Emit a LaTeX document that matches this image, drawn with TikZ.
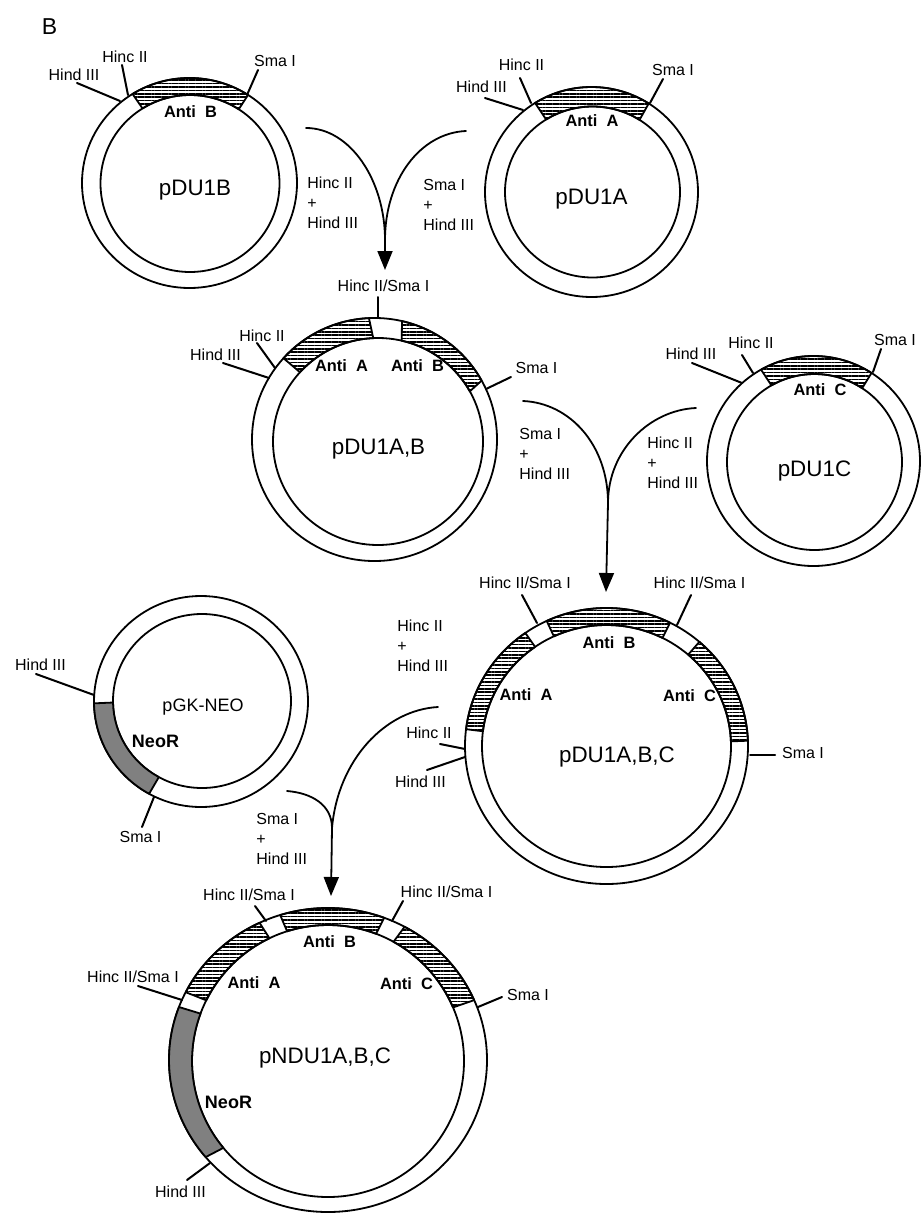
\documentclass[tikz,border=0pt]{standalone}
\usepackage{fontspec}
\setmainfont{Liberation Sans}
\usetikzlibrary{arrows.meta,calc,patterns.meta}

\tikzset{
  lab/.style={anchor=base,inner sep=0pt,font=\fontsize{8}{10}\selectfont},
  anti/.style={anchor=base,inner sep=0pt,font=\fontsize{8.2}{10}\selectfont\bfseries},
  neolab/.style={anchor=base,inner sep=0pt,font=\fontsize{9}{11}\selectfont\bfseries},
  ptitle/.style={anchor=base,inner sep=0pt,font=\fontsize{11.2}{13}\selectfont},
  enzyme/.style={anchor=west,inner sep=0pt,align=left,font=\fontsize{8}{10}\selectfont},
  dna/.style={line width=0.9pt},
  lead/.style={line width=1pt},
  cut/.style={line width=0.9pt},
  hatch/.style={draw=black,line width=0.9pt,pattern={Lines[angle=0,distance=1.7pt,line width=0.75pt]}},
  neo/.style={draw=black,line width=0.9pt,fill=black!50},
}

% outer centre, outer radii, inner centre, inner radii
\newcommand{\plasmidring}[6]{
  \coordinate (oc) at (#1);
  \coordinate (ic) at (#4);
  \def\orx{#2}\def\ory{#3}\def\irx{#5}\def\iry{#6}
  \draw[dna] (oc) ellipse [x radius=#2,y radius=#3];
  \draw[dna] (ic) ellipse [x radius=#5,y radius=#6];
}
% y axis runs down, so the angles change sign
\newcommand{\plasmidband}[3]{
  \draw[#1] ($(ic)+(-#2:\irx\space and \iry)$) arc [start angle=-#2,end angle=-#3,x radius=\irx,y radius=\iry]
    -- ($(oc)+(-#3:\orx\space and \ory)$) arc [start angle=-#3,end angle=-#2,x radius=\orx,y radius=\ory] -- cycle;
}

\begin{document}
\begin{tikzpicture}[line cap=round,line join=round,>={Triangle[length=9.5pt,width=7.5pt]},x=0.5pt,y=-0.5pt]
\useasboundingbox (0,0) rectangle (924,1226);

\node[anchor=base,inner sep=0pt,font=\fontsize{11.5}{13}\selectfont] (panel) at (49.5,34) {B};

% pDU1B
\plasmidring{189.5,183}{107.5}{105}{190,183.5}{89.5}{88.5}
\plasmidband{hatch}{57}{122}
\node[anti] (antib) at (190.5,117) {Anti\ \ B};
\node[ptitle] (pb) at (195,195) {pDU1B};
\node[lab] (hdb) at (74,80) {Hind III};   \coordinate (hdb1) at (77,83);   \coordinate (hdb2) at (120,101);
\node[lab] (hcb) at (125,62.5) {Hinc II}; \coordinate (hcb1) at (122,65);  \coordinate (hcb2) at (128,95);
\node[lab] (smb) at (275,66.5) {Sma I};   \coordinate (smb1) at (258,70);  \coordinate (smb2) at (247,95);

% pDU1A
\plasmidring{591.5,192}{106.5}{105}{592.5,192}{87.5}{85.5}
\plasmidband{hatch}{57.5}{122}
\node[anti] (antia) at (592,126) {Anti\ \ A};
\node[ptitle] (pa) at (591.5,204) {pDU1A};
\node[lab] (hda) at (481.5,92) {Hind III}; \coordinate (hda1) at (485,98);  \coordinate (hda2) at (523,110);
\node[lab] (hca) at (521.5,70) {Hinc II};  \coordinate (hca1) at (520,78);  \coordinate (hca2) at (531,103);
\node[lab] (sma) at (673,75) {Sma I};      \coordinate (sma1) at (663,79);  \coordinate (sma2) at (650,103);

% first joining
\node[enzyme] (eb) at (307,203) {Hinc II\\+\\Hind III};
\node[enzyme] (ea) at (423,205) {Sma I\\+\\Hind III};
\coordinate (sb) at (306,128);
\coordinate (sa) at (466,131);
\coordinate (jab) at (385,240);
\coordinate (tab) at (385,270);
\draw[cut] (sb) .. controls (350,128) and (385,180) .. (jab);
\draw[cut] (sa) .. controls (420,133) and (385,180) .. (jab);
\draw[cut,->] (jab) -- (tab);

% pDU1A,B
\plasmidring{374.5,439.5}{122.5}{121.5}{378,441.5}{105}{103.5}
\plasmidband{hatch}{92.6}{138}
\plasmidband{hatch}{29}{77}
\node[anti] (antiaa) at (341.5,371) {Anti\ \ A};
\node[anti] (antibb) at (417.5,371) {Anti\ \ B};
\node[ptitle] (pab) at (378.5,454) {pDU1A,B};
\node[lab] (hsab) at (383.5,291) {Hinc II/Sma I}; \coordinate (hsab1) at (378,297); \coordinate (hsab2) at (378,318);
\node[lab] (hcab) at (262,341) {Hinc II};  \coordinate (hcab1) at (257,343); \coordinate (hcab2) at (275,368);
\node[lab] (hdab) at (215.5,360) {Hind III}; \coordinate (hdab1) at (223,363); \coordinate (hdab2) at (269,378);
\node[lab] (smab) at (536.5,373) {Sma I};  \coordinate (smab1) at (511,377); \coordinate (smab2) at (486,389);

% pDU1C
\plasmidring{813.5,461}{106.5}{105}{814.5,462}{87.5}{88}
\plasmidband{hatch}{57}{119.5}
\node[anti] (antic) at (820,395) {Anti\ \ C};
\node[ptitle] (pc) at (814.5,476) {pDU1C};
\node[lab] (hdc) at (691,359) {Hind III}; \coordinate (hdc1) at (692,363); \coordinate (hdc2) at (742,383);
\node[lab] (hcc) at (751,348) {Hinc II};  \coordinate (hcc1) at (742,355); \coordinate (hcc2) at (753,373);
\node[lab] (smc) at (895,345) {Sma I};    \coordinate (smc1) at (881,349); \coordinate (smc2) at (873,372);

% second joining
\node[enzyme] (eab) at (519,454) {Sma I\\+\\Hind III};
\node[enzyme] (ec) at (647,463) {Hinc II\\+\\Hind III};
\coordinate (sab) at (523,401);
\coordinate (sc) at (696,408);
\coordinate (jabc) at (608,503);
\coordinate (tabc) at (606,592);
\draw[cut] (sab) .. controls (570,403) and (608,445) .. (jabc);
\draw[cut] (sc) .. controls (650,410) and (608,450) .. (jabc);
\draw[cut,->] (jabc) -- (tabc);

% pDU1A,B,C
\plasmidring{606.5,746}{141.5}{138}{606.5,746}{124.5}{121}
\plasmidband{hatch}{125}{173}
\plasmidband{hatch}{63.3}{115}
\plasmidband{hatch}{2.2}{49}
\node[anti] (antiaaa) at (526,700) {Anti\ \ A};
\node[anti] (antibbb) at (609,648) {Anti\ \ B};
\node[anti] (anticc) at (689.5,701) {Anti\ \ C};
\node[ptitle] (pabc) at (617,762) {pDU1A,B,C};
\node[lab] (hsl) at (525,588) {Hinc II/Sma I}; \coordinate (hsl1) at (522,595); \coordinate (hsl2) at (537,623);
\node[lab] (hsr) at (699.5,588) {Hinc II/Sma I}; \coordinate (hsr1) at (691,595); \coordinate (hsr2) at (677,625);
\node[lab] (smabc) at (803,758) {Sma I};   \coordinate (smabc1) at (750,755); \coordinate (smabc2) at (775,755);
\node[lab] (hcabc) at (429,738) {Hinc II}; \coordinate (hcabc1) at (440,744); \coordinate (hcabc2) at (465,749);
\node[lab] (hdabc) at (420.5,787) {Hind III}; \coordinate (hdabc1) at (427,770); \coordinate (hdabc2) at (465,757);

% pGK-NEO
\plasmidring{201,701.5}{107}{105.5}{202,701}{89}{87}
\plasmidband{neo}{181}{241}
\node[anchor=base,inner sep=0pt,font=\fontsize{9}{11}\selectfont] (pgk) at (203,711) {pGK-NEO};
\node[neolab] (neor) at (155.5,747) {NeoR};
\node[lab] (hdg) at (40.5,670) {Hind III}; \coordinate (hdg1) at (36,674);  \coordinate (hdg2) at (94,695);
\node[lab] (smg) at (140.5,842) {Sma I};   \coordinate (smg1) at (142,827); \coordinate (smg2) at (154,797);

% third joining
\node[enzyme] (ehd) at (397,646) {Hinc II\\+\\Hind III};
\node[enzyme] (esm) at (256,839) {Sma I\\+\\Hind III};
\coordinate (sabc) at (438,707);
\coordinate (sg) at (287,791);
\coordinate (jn) at (332,828);
\coordinate (tn) at (331,896);
\draw[cut] (sabc) .. controls (385,710) and (338,760) .. (jn);
\draw[cut] (sg) .. controls (312,793) and (332,805) .. (jn);
\draw[cut,->] (jn) -- (tn);

% pNDU1A,B,C
\plasmidring{328,1060}{159}{152}{328,1061}{136}{136}
\plasmidband{neo}{159.6}{219.7}
\plasmidband{hatch}{115.5}{153.5}
\plasmidband{hatch}{69.3}{107.5}
\plasmidband{hatch}{23.2}{61.2}
\node[anti] (antian) at (254,988) {Anti\ \ A};
\node[anti] (antibn) at (329.5,947) {Anti\ \ B};
\node[anti] (anticn) at (406.5,989) {Anti\ \ C};
\node[neolab] (neon) at (228.5,1108) {NeoR};
\node[ptitle] (pn) at (325,1063) {pNDU1A,B,C};
\node[lab] (hsn) at (249,900) {Hinc II/Sma I};  \coordinate (hsn1) at (255,906); \coordinate (hsn2) at (266,921);
\node[lab] (hsm) at (446.5,897) {Hinc II/Sma I}; \coordinate (hsm1) at (403,901); \coordinate (hsm2) at (392,921);
\node[lab] (hsw) at (133,982) {Hinc II/Sma I};  \coordinate (hsw1) at (138,986); \coordinate (hsw2) at (182,1000);
\node[lab] (smn) at (528,1000) {Sma I};         \coordinate (smn1) at (502,997); \coordinate (smn2) at (478,1007);
\node[lab] (hdn) at (180.5,1197) {Hind III};    \coordinate (hdn1) at (187,1180); \coordinate (hdn2) at (210,1163);

\foreach \n in {hdb,hcb,smb,hda,hca,sma,hsab,hcab,hdab,smab,hdc,hcc,smc,hsl,hsr,smabc,hcabc,hdabc,hdg,smg,hsn,hsm,hsw,smn,hdn}
  \draw[lead] (\n1) -- (\n2);
\end{tikzpicture}
\end{document}
